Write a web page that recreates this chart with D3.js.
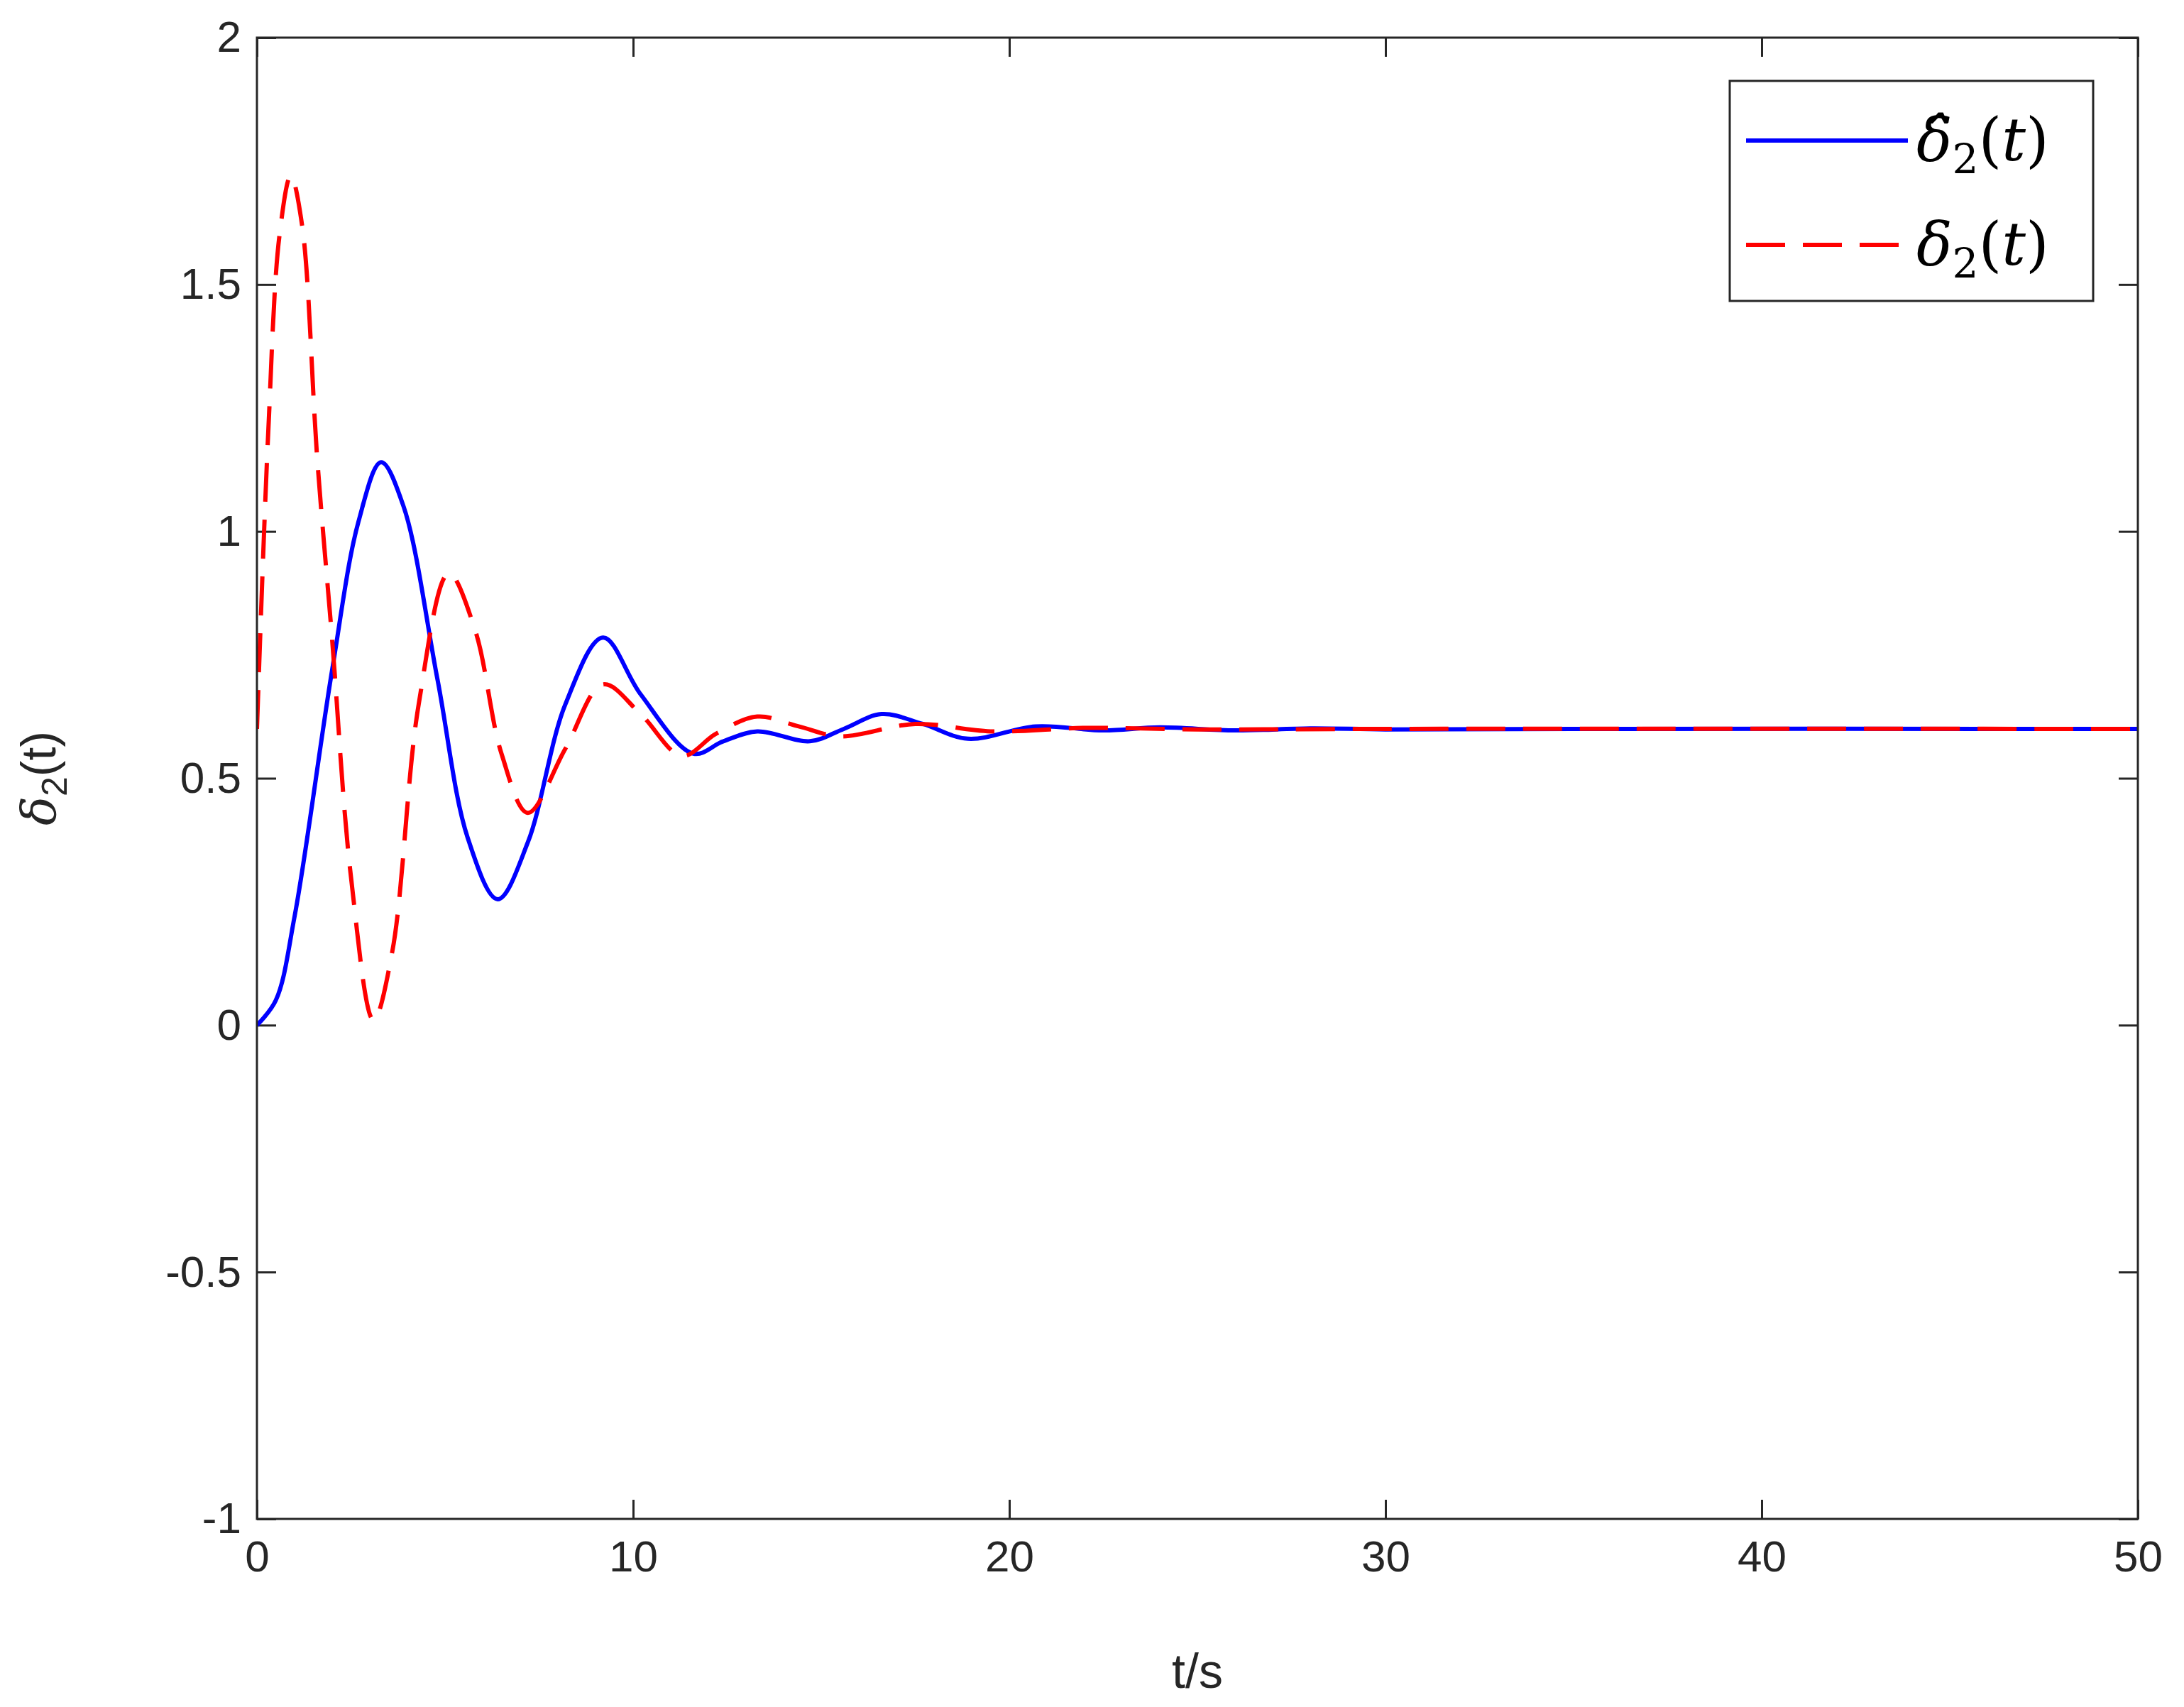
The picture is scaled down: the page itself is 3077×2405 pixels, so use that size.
<!DOCTYPE html>
<html><head><meta charset="utf-8">
<script src="https://cdn.jsdelivr.net/npm/d3@7"></script>
<style>body{margin:0;background:#fff}</style></head>
<body><svg id="c" width="3077" height="2405"></svg>
<script>
// estimated sample points
var hatT = [0,0.5,1,2,2.7,3.3,3.9,4.8,5.6,6.4,7.2,8.2,9.2,10.2,11.6,12.4,13.3,14.7,15.6,16.6,17.7,18.9,20.7,22.5,24,26,28,30,35,50];
var hatV = [0,0.05,0.22,0.72,1.02,1.14,1.05,0.7,0.38,0.255,0.37,0.65,0.785,0.67,0.55,0.575,0.595,0.575,0.6,0.63,0.61,0.58,0.605,0.597,0.603,0.597,0.601,0.599,0.6,0.6];
var delT = [0,0.3,0.6,0.9,1.2,1.6,2,2.5,3.1,3.6,4.3,5.1,5.8,6.5,7.2,8.2,9.2,10.2,11.3,12.2,13.3,14.4,15.5,17.5,19.5,22,25,30,50];
var delV = [0.6,1.2,1.6,1.72,1.62,1.15,0.78,0.3,0.01,0.15,0.65,0.915,0.8,0.55,0.43,0.56,0.69,0.63,0.545,0.59,0.625,0.605,0.585,0.61,0.595,0.602,0.599,0.6,0.6];
var xTicks = [0,10,20,30,40,50];
var yTicks = [-1,-0.5,0,0.5,1,1.5,2];

var L = 362, R = 3012, T = 53, B = 2140;
var svg = d3.select('#c');
var x = d3.scaleLinear().domain([0,50]).range([L,R]);
var y = d3.scaleLinear().domain([-1,2]).range([B,T]);
var font = 'Liberation Sans, Arial, sans-serif';
var tk = 27;

var g = svg.append('g');
function axis(a, tr){
	var s = g.append('g').attr('transform', tr).call(a);
	s.select('.domain').remove();
	s.selectAll('line').attr('stroke','#262626').attr('stroke-width',3);
	s.selectAll('text').attr('font-family',font).attr('font-size',62).attr('fill','#262626');
	return s;
}
axis(d3.axisBottom(x).tickValues(xTicks).tickSize(-tk).tickPadding(30).tickFormat(d3.format('d')), 'translate(0,'+B+')');
axis(d3.axisTop(x).tickValues(xTicks).tickSize(-tk).tickFormat(''), 'translate(0,'+T+')');
axis(d3.axisLeft(y).tickValues(yTicks).tickSize(-tk).tickPadding(22).tickFormat(function(d){return String(d);}), 'translate('+L+',0)');
axis(d3.axisRight(y).tickValues(yTicks).tickSize(-tk).tickFormat(''), 'translate('+R+',0)');

var clip = svg.append('clipPath').attr('id','cp').append('rect').attr('x',L).attr('y',T).attr('width',R-L).attr('height',B-T);

var line = d3.line().curve(d3.curveCatmullRom.alpha(0.5));
svg.append('path').attr('clip-path','url(#cp)')
	.attr('d', line(hatT.map(function(t,i){return [x(t), y(hatV[i])];})))
	.attr('fill','none').attr('stroke','#0000ff').attr('stroke-width',6);
svg.append('path').attr('clip-path','url(#cp)')
	.attr('d', line(delT.map(function(t,i){return [x(t), y(delV[i])];})))
	.attr('fill','none').attr('stroke','#ff0000').attr('stroke-width',6).attr('stroke-dasharray','55,25');

svg.append('rect').attr('x',L).attr('y',T).attr('width',R-L).attr('height',B-T)
	.attr('fill','none').attr('stroke','#262626').attr('stroke-width',3);

svg.append('text').attr('x',(L+R)/2).attr('y',2378).attr('text-anchor','middle')
	.attr('font-family',font).attr('font-size',68).attr('fill','#262626').text('t/s');
var yl = svg.append('text').attr('transform','translate(78,'+y(0.5)+') rotate(-90)').attr('text-anchor','middle')
	.attr('font-family',font).attr('font-size',68).attr('fill','#262626');
yl.append('tspan').attr('font-family','DejaVu Serif').attr('font-style','italic').text('δ');
yl.append('tspan').attr('dy',16).attr('font-size',50).text('2');
yl.append('tspan').attr('dy',-16).text('(t)');

// legend
var lg = svg.append('g');
lg.append('rect').attr('x',2437).attr('y',114).attr('width',512).attr('height',310)
	.attr('fill','#fff').attr('stroke','#262626').attr('stroke-width',3);
var items = [{c:'#0000ff',d:null,hat:true,yy:198},{c:'#ff0000',d:'55,25',hat:false,yy:345}];
items.forEach(function(it){
	lg.append('line').attr('x1',2460).attr('x2',2688).attr('y1',it.yy).attr('y2',it.yy)
		.attr('stroke',it.c).attr('stroke-width',6).attr('stroke-dasharray',it.d);
	var t = lg.append('text').attr('x',2700).attr('y',it.yy+28).attr('font-family','DejaVu Serif, serif').attr('font-size',84).attr('fill','#000');
	t.append('tspan').attr('font-style','italic').text(it.hat ? 'δ\u0302' : 'δ');
	t.append('tspan').attr('dy',18).attr('font-size',58).text('2');
	t.append('tspan').attr('dy',-18).text('(');
	t.append('tspan').attr('font-style','italic').text('t');
	t.append('tspan').text(')');
});
</script></body></html>
